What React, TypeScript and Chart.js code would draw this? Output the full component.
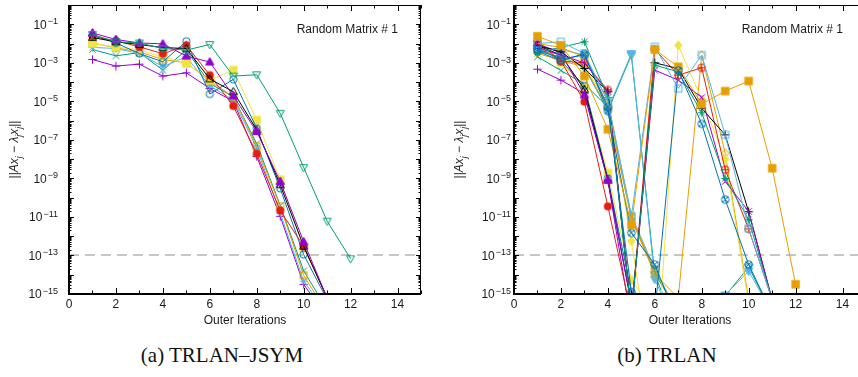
import React, { useEffect, useRef } from "react";
import { Chart, registerables } from "chart.js";
Chart.register(...registerables);

// ---------- data (log10 of residual norm, per outer iteration 1,2,3,...) ----------
const X_TICKS = [0, 2, 4, 6, 8, 10, 12, 14];
const Y_LABEL_EXPONENTS = [-1, -3, -5, -7, -9, -11, -13, -15];
const THRESHOLD = 1e-13;
const NOTE = "Random Matrix # 1";
const X_TITLE = "Outer Iterations";
const CAPTION_A = "(a) TRLAN\u2013JSYM";
const CAPTION_B = "(b) TRLAN";

// Panel (a) TRLAN-JSYM
const jsymPurplePlus = [-2.83, -3.17, -3.07, -3.69, -3.52, -4.33, -5.0, -7.86, -10.97, -14.5, -16.2];
const jsymGreenCross = [-2.31, -2.64, -2.47, -3.38, -2.34, -4.07, -4.76, -7.2, -10.4, -13.8, -15.8];
const jsymBlueStar = [-2.2, -2.26, -2.52, -3.2, -2.69, -4.2, -4.93, -7.43, -10.8, -14.33, -16];
const jsymOrangeSquare = [-1.97, -2.22, -2.43, -2.83, -3.0, -3.95, -4.76, -7.34, -10.45, -14.03, -16];
const jsymYellowSquareF = [-2.0, -2.17, -2.34, -2.69, -3.03, -3.9, -3.38, -5.97, -9.07, -12.6, -15.2];
const jsymNavyCircle = [-1.57, -1.97, -2.52, -2.95, -1.88, -4.62, -3.86, -6.4, -9.52, -12.95, -15.3];
const jsymRedCircleF = [-1.62, -1.86, -2.17, -2.53, -2.09, -3.64, -5.24, -7.72, -10.67, -12.52, -15.2];
const jsymBlackTri = [-1.69, -1.91, -2.05, -2.21, -2.26, -3.84, -4.5, -6.48, -9.33, -12.52, -15.2];
const jsymPurpleTriF = [-1.45, -1.79, -1.97, -2.02, -2.65, -2.96, -4.72, -6.57, -9.16, -12.29, -15.2];
const jsymGreenTriDown = [-1.53, -1.91, -1.97, -2.26, -2.34, -2.05, -3.69, -3.62, -5.62, -8.43, -11.22, -13.17];

// Panel (b) TRLAN
const trlPurplePlus = [-3.33, -3.9, -4.6, -9.1, -16.5];
const trlGreenCross = [-2.69, -3.4, -4.1, -5.3, -11.0, -13.9, -16];
const trlBlueStar = [-2.2, -2.3, -2.6, -5.0, -10.9, -13.7, -16];
const trlOrangeSquare = [-2.0, -2.2, -2.7, -5.2, -11.0, -13.8, -16];
const trlYellowSquareF = [-2.1, -3.0, -4.3, -8.72, -14.28, -16];
const trlNavyCircle = [-2.2, -2.9, -4.2, -9.0, -14.9, -16.5];
const trlRedCircleF = [-2.1, -2.9, -5.02, -10.45, -16];
const trlBlackTri = [-2.1, -2.6, -4.38, -9.07, -15.5];
const trlPurpleTriF = [-2.0, -2.5, -4.67, -9.1, -15.5];
const trlGreenTriDown = [-2.4, -2.7, -3.2, -5.5, -2.6, -14.0, -17, -17, -15.1, -13.6, -16];
const trlBlueTriDownF = [-2.3, -2.6, -3.3, -5.4, -2.52, -14.24, -17, -17, -15.05, -13.81, -16];
const trlOrangeDiamond = [-2.5, -2.9, -3.2, -5.36, -11.1, -13.98, -15.2, -2.6, -7.69, -15.3];
const trlYellowDiamondF = [-2.3, -2.8, -3.1, -5.2, -12.26, -20, -2.09, -4.9, -8.0, -15.5];
const trlNavyCircleX = [-2.4, -2.9, -2.52, -5.5, -11.83, -13.47, -16.5];
const trlRedCirclePlus = [-1.9, -2.91, -3.0, -4.41, -16, -2.3, -3.64, -3.26, -8.55, -11.62, -15.3];
const trlBlackPlus = [-2.1, -2.43, -3.29, -4.5, -16, -3.0, -3.3, -5.36, -6.74, -10.73, -15.3];
const trlPurpleCross = [-2.2, -2.6, -3.0, -4.5, -16, -3.38, -3.9, -4.79, -9.16, -10.71, -15.3];
const trlGreenStar = [-2.5, -2.2, -1.91, -4.8, -16, -3.12, -3.47, -5.59, -9.0, -11.14, -15.3];
const trlBlueSquare = [-2.0, -1.91, -2.52, -5.0, -10.97, -2.17, -4.33, -2.6, -6.74, -11.6, -15.3];
const trlOrangeSquareF = [-1.62, -2.09, -3.69, -6.45, -11.41, -2.31, -3.21, -5.14, -4.47, -3.95, -8.47, -14.5];
const trlNavyCircleX2 = [-2.3, -2.8, -2.6, -5.3, -14.9, -16, -3.4, -6.17, -10.1, -13.47, -16];

const PURPLE = "#9400D3";
const GREEN = "#009E73";
const LBLUE = "#56B4E9";
const ORANGE = "#E69F00";
const YELLOW = "#F0E442";
const NAVY = "#0072B2";
const RED = "#E51E10";
const BLACK = "#000000";

type Spec = [number[], string, string];

const SERIES_A: Spec[] = [
  [jsymPurplePlus, PURPLE, "plus"],
  [jsymGreenCross, GREEN, "cross"],
  [jsymBlueStar, LBLUE, "star"],
  [jsymOrangeSquare, ORANGE, "square"],
  [jsymYellowSquareF, YELLOW, "squareF"],
  [jsymNavyCircle, NAVY, "circle"],
  [jsymRedCircleF, RED, "circleF"],
  [jsymBlackTri, BLACK, "tri"],
  [jsymPurpleTriF, PURPLE, "triF"],
  [jsymGreenTriDown, GREEN, "triDown"],
];

const SERIES_B: Spec[] = [
  [trlPurplePlus, PURPLE, "plus"],
  [trlGreenCross, GREEN, "cross"],
  [trlBlueStar, LBLUE, "star"],
  [trlOrangeSquare, ORANGE, "square"],
  [trlYellowSquareF, YELLOW, "squareF"],
  [trlNavyCircle, NAVY, "circle"],
  [trlRedCircleF, RED, "circleF"],
  [trlBlackTri, BLACK, "tri"],
  [trlPurpleTriF, PURPLE, "triF"],
  [trlGreenTriDown, GREEN, "triDown"],
  [trlBlueTriDownF, LBLUE, "triDownF"],
  [trlOrangeDiamond, ORANGE, "diamond"],
  [trlYellowDiamondF, YELLOW, "diamondF"],
  [trlNavyCircleX, NAVY, "circleX"],
  [trlRedCirclePlus, RED, "circlePlus"],
  [trlBlackPlus, BLACK, "plus"],
  [trlPurpleCross, PURPLE, "cross"],
  [trlGreenStar, GREEN, "star"],
  [trlBlueSquare, LBLUE, "square"],
  [trlOrangeSquareF, ORANGE, "squareF"],
  [trlNavyCircleX2, NAVY, "circleX"],
];

// ---------- helpers ----------
const SANS = '"Liberation Sans", Arial, Helvetica, sans-serif';
const TEXT = "#1a1a1a";

function makeMarker(kind: string, color: string): HTMLCanvasElement {
  const S = 13;
  const c = document.createElement("canvas");
  c.width = S;
  c.height = S;
  const g = c.getContext("2d")!;
  const m = S / 2;
  g.strokeStyle = color;
  g.fillStyle = color;
  g.lineWidth = 1;
  const seg = (a: number, b: number, cc: number, d: number) => {
    g.beginPath();
    g.moveTo(a, b);
    g.lineTo(cc, d);
    g.stroke();
  };
  const poly = (pts: number[][], fill: boolean) => {
    g.beginPath();
    pts.forEach(([x, y], i) => (i ? g.lineTo(x, y) : g.moveTo(x, y)));
    g.closePath();
    if (fill) g.fill();
    g.stroke();
  };
  const circ = (r: number, fill: boolean) => {
    g.beginPath();
    g.arc(m, m, r, 0, Math.PI * 2);
    if (fill) g.fill();
    else g.stroke();
  };
  const plus = (r: number) => {
    seg(m - r, m, m + r, m);
    seg(m, m - r, m, m + r);
  };
  const cross = (d: number) => {
    seg(m - d, m - d, m + d, m + d);
    seg(m - d, m + d, m + d, m - d);
  };
  switch (kind) {
    case "plus":
      plus(4.2);
      break;
    case "cross":
      cross(3.2);
      break;
    case "star":
      plus(4);
      cross(3);
      break;
    case "square":
      g.strokeRect(m - 3.5, m - 3.5, 7, 7);
      break;
    case "squareF":
      g.fillRect(m - 4.2, m - 4.2, 8.4, 8.4);
      break;
    case "circle":
      circ(3.6, false);
      break;
    case "circleF":
      circ(4, true);
      break;
    case "tri":
      poly([[m, m - 4.3], [m + 4, m + 2.8], [m - 4, m + 2.8]], false);
      break;
    case "triF":
      poly([[m, m - 4.5], [m + 4.2, m + 2.9], [m - 4.2, m + 2.9]], true);
      break;
    case "triDown":
      poly([[m, m + 4.3], [m + 4, m - 2.8], [m - 4, m - 2.8]], false);
      break;
    case "triDownF":
      poly([[m, m + 4.5], [m + 4.2, m - 2.9], [m - 4.2, m - 2.9]], true);
      break;
    case "diamond":
      poly([[m, m - 4.4], [m + 3.4, m], [m, m + 4.4], [m - 3.4, m]], false);
      break;
    case "diamondF":
      poly([[m, m - 4.6], [m + 3.6, m], [m, m + 4.6], [m - 3.6, m]], true);
      break;
    case "circleX":
      circ(3.8, false);
      cross(2.6);
      break;
    case "circlePlus":
      circ(3.8, false);
      plus(3.8);
      break;
  }
  return c;
}

type FrameCfg = { labelGap: number };

function drawRich(ctx: CanvasRenderingContext2D, runs: { t: string; it?: boolean; sub?: boolean }[], size: number) {
  const fontFor = (r: { it?: boolean; sub?: boolean }) =>
    `${r.it ? "italic " : ""}${r.sub ? size * 0.72 : size}px ${SANS}`;
  let total = 0;
  const widths = runs.map((r) => {
    ctx.font = fontFor(r);
    const w = ctx.measureText(r.t).width;
    total += w;
    return w;
  });
  let x = -total / 2;
  runs.forEach((r, i) => {
    ctx.font = fontFor(r);
    ctx.fillText(r.t, x, r.sub ? size * 0.35 + 4 : 4);
    x += widths[i];
  });
}

function makeFramePlugin(cfg: FrameCfg) {
  return {
    id: "frameDeco",
    beforeDatasetsDraw(chart: any) {
      const { ctx, chartArea: a, scales } = chart;
      const y = Math.round(scales.y.getPixelForValue(THRESHOLD));
      ctx.save();
      ctx.strokeStyle = "#c6c6c6";
      ctx.lineWidth = 2;
      ctx.setLineDash([10, 6]);
      ctx.beginPath();
      ctx.moveTo(a.left, y);
      ctx.lineTo(a.right, y);
      ctx.stroke();
      ctx.restore();
    },
    afterDatasetsDraw(chart: any) {
      const { ctx, chartArea: a, scales } = chart;
      const xs = scales.x;
      const ys = scales.y;
      ctx.save();
      ctx.strokeStyle = "#000";
      // y ticks (log), mirrored
      ctx.lineWidth = 1;
      for (let e = -15; e <= 0; e++) {
        for (let k = 1; k <= 9; k++) {
          const v = k * Math.pow(10, e);
          if (v > 1 || v < 1e-15) continue;
          const py = Math.round(ys.getPixelForValue(v)) + 0.5;
          const len = k === 1 ? 5 : 2.5;
          ctx.beginPath();
          ctx.moveTo(a.left, py);
          ctx.lineTo(a.left + len, py);
          ctx.moveTo(a.right, py);
          ctx.lineTo(a.right - len, py);
          ctx.stroke();
        }
      }
      // x ticks, mirrored
      for (let i = 0; i <= 15; i++) {
        const px = Math.round(xs.getPixelForValue(i)) + 0.5;
        const len = i % 2 === 0 ? 6 : 3.5;
        ctx.beginPath();
        ctx.moveTo(px, a.bottom);
        ctx.lineTo(px, a.bottom - len);
        ctx.moveTo(px, a.top);
        ctx.lineTo(px, a.top + len);
        ctx.stroke();
      }
      // frame
      ctx.lineWidth = 1;
      ctx.beginPath();
      ctx.moveTo(a.left, a.top + 0.5);
      ctx.lineTo(a.right, a.top + 0.5);
      ctx.moveTo(a.right - 0.5, a.top);
      ctx.lineTo(a.right - 0.5, a.bottom);
      ctx.stroke();
      ctx.lineWidth = 2;
      ctx.beginPath();
      ctx.moveTo(a.left, a.top);
      ctx.lineTo(a.left, a.bottom + 1);
      ctx.moveTo(a.left - 1, a.bottom);
      ctx.lineTo(a.right, a.bottom);
      ctx.stroke();
      ctx.restore();
    },
    afterDraw(chart: any) {
      const { ctx, chartArea: a, scales } = chart;
      const xs = scales.x;
      const ys = scales.y;
      ctx.save();
      ctx.fillStyle = TEXT;
      // x tick labels
      ctx.font = `12px ${SANS}`;
      ctx.textAlign = "center";
      ctx.textBaseline = "middle";
      X_TICKS.forEach((t) => ctx.fillText(String(t), xs.getPixelForValue(t), a.bottom + 11));
      // x title
      ctx.fillText(X_TITLE, (a.left + a.right) / 2, a.bottom + 27);
      // y tick labels with superscripts
      ctx.textAlign = "left";
      ctx.textBaseline = "alphabetic";
      Y_LABEL_EXPONENTS.forEach((e) => {
        const py = ys.getPixelForValue(Math.pow(10, e));
        const sup = "\u2212" + Math.abs(e);
        ctx.font = `12px ${SANS}`;
        const wb = ctx.measureText("10").width;
        ctx.font = `9px ${SANS}`;
        const ws = ctx.measureText(sup).width;
        const x0 = a.left - cfg.labelGap - ws - wb - 1;
        ctx.font = `12px ${SANS}`;
        ctx.fillText("10", x0, py + 4.3);
        ctx.font = `9px ${SANS}`;
        ctx.fillText(sup, x0 + wb + 1, py);
      });
      // note
      ctx.font = `12px ${SANS}`;
      ctx.textAlign = "right";
      ctx.textBaseline = "middle";
      ctx.fillText(NOTE, a.right - 23, a.top + 25);
      // y title (rotated)
      ctx.translate(a.left - 55, (a.top + a.bottom) / 2);
      ctx.rotate(-Math.PI / 2);
      ctx.textAlign = "left";
      ctx.textBaseline = "alphabetic";
      drawRich(
        ctx,
        [
          { t: "||" },
          { t: "Ax", it: true },
          { t: "j", it: true, sub: true },
          { t: " \u2212 " },
          { t: "\u03bb", it: true },
          { t: "j", it: true, sub: true },
          { t: "x", it: true },
          { t: "j", it: true, sub: true },
          { t: "||" },
        ],
        12
      );
      ctx.restore();
    },
  };
}

function buildChart(canvas: HTMLCanvasElement, series: Spec[], padding: any, cfg: FrameCfg) {
  const n = series.length;
  const datasets = series.map(([vals, color, kind], i) => ({
    label: `${kind}-${i}`,
    data: vals.map((v, k) => ({ x: k + 1, y: Math.pow(10, v) })),
    borderColor: color,
    backgroundColor: color,
    borderWidth: 1,
    pointStyle: makeMarker(kind, color),
    pointRadius: 4,
    pointHoverRadius: 4,
    tension: 0,
    fill: false,
    order: n - i,
    clip: 0,
  }));
  return new Chart(canvas, {
    type: "line",
    data: { datasets } as any,
    options: {
      animation: false,
      responsive: false,
      maintainAspectRatio: false,
      events: [],
      layout: { padding },
      scales: {
        x: { type: "linear", min: 0, max: 15, display: false },
        y: { type: "logarithmic", min: 1e-15, max: 1, display: false },
      },
      plugins: { legend: { display: false }, tooltip: { enabled: false } },
    } as any,
    plugins: [makeFramePlugin(cfg)],
  });
}

export default function App() {
  const leftRef = useRef<HTMLCanvasElement>(null);
  const rightRef = useRef<HTMLCanvasElement>(null);

  useEffect(() => {
    const c1 = buildChart(leftRef.current!, SERIES_A, { left: 69, top: 5, right: 9, bottom: 36 }, { labelGap: 11 });
    const c2 = buildChart(rightRef.current!, SERIES_B, { left: 84, top: 5, right: 6, bottom: 36 }, { labelGap: 3 });
    return () => {
      c1.destroy();
      c2.destroy();
    };
  }, []);

  const caption: React.CSSProperties = {
    position: "absolute",
    top: 345,
    width: 300,
    textAlign: "center",
    fontFamily: '"Liberation Serif", "Times New Roman", serif',
    fontSize: 21,
    lineHeight: "21px",
    color: "#111",
    whiteSpace: "nowrap",
  };

  return (
    <div style={{ position: "fixed", left: 0, top: 0, width: 858, height: 377, overflow: "hidden", background: "#fff" }}>
      <canvas ref={leftRef} width={430} height={330} style={{ position: "absolute", left: 0, top: 0 }} />
      <div style={{ position: "absolute", left: 430, top: 0, width: 428, height: 330, overflow: "hidden" }}>
        <canvas ref={rightRef} width={442} height={330} style={{ position: "absolute", left: 0, top: 0 }} />
      </div>
      <div style={{ ...caption, left: 72 }}>{CAPTION_A}</div>
      <div style={{ ...caption, left: 517 }}>{CAPTION_B}</div>
    </div>
  );
}
